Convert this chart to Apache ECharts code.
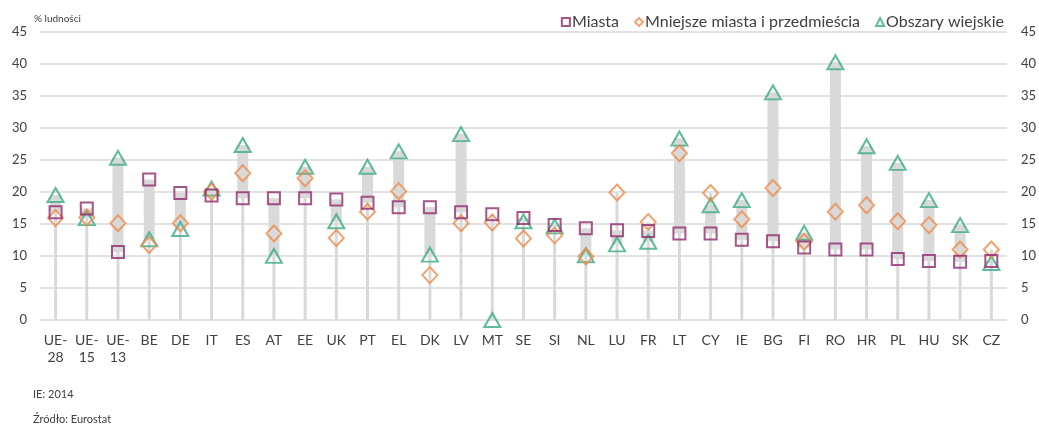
<!DOCTYPE html>
<html>
<head>
<meta charset="utf-8">
<script src="https://cdn.jsdelivr.net/npm/echarts@6/dist/echarts.min.js"></script>
<style>
  html, body { margin: 0; padding: 0; background: #fff; }
  #chart { width: 1039px; height: 425px; }
</style>
</head>
<body>
<div id="chart"></div>
<script>
const categories = ['UE-28','UE-15','UE-13','BE','DE','IT','ES','AT','EE','UK','PT','EL','DK','LV','MT','SE','SI','NL','LU','FR','LT','CY','IE','BG','FI','RO','HR','PL','HU','SK','CZ'];
const miasta =   [16.8,17.4,10.6,21.9,19.8,19.4,19.0,19.0,19.0,18.8,18.3,17.6,17.6,16.8,16.5,15.9,14.8,14.3,14.0,13.9,13.5,13.5,12.5,12.3,11.3,11.0,11.0, 9.5, 9.2, 9.1, 9.2];
const mniejsze = [15.9,16.0,15.1,11.7,15.1,20.0,22.9,13.5,22.1,12.8,16.9,20.1, 7.0,15.1,15.2,12.7,13.2, 9.9,19.9,15.3,26.0,19.8,15.7,20.6,12.2,16.9,17.9,15.4,14.8,11.0,11.0];
const wiejskie = [19.5,15.9,25.3,12.6,14.2,20.5,27.3,10.0,23.9,15.4,23.9,26.3,10.2,29.0, 0.0,15.4,14.6,10.1,11.8,12.2,28.3,17.9,18.7,35.5,13.6,40.2,27.1,24.5,18.7,14.8, 8.9];
const yTicks = [0,5,10,15,20,25,30,35,40,45];
const seriesNames = ['Miasta','Mniejsze miasta i przedmieścia','Obszary wiejskie'];

const cPurple = '#8f2b6d', cOrange = '#ee8b4a', cGreen = '#3aaa85', cGray = '#d9d9d9';
const font = 'Lato';

// drop lines: 0 -> highest value; range bars: cities <-> rural (missing rural = 0 skipped)
const dropData = categories.map((c, i) => [i, 0, Math.max(miasta[i], mniejsze[i], wiejskie[i])]);
const rangeData = categories.map((c, i) => wiejskie[i] === 0 ? [i, null, null] : [i, Math.min(miasta[i], wiejskie[i]), Math.max(miasta[i], wiejskie[i])]);

function rectItem(width, color) {
  return function (params, api) {
    const lo = api.value(1), hi = api.value(2);
    if (lo == null || hi == null || isNaN(lo) || isNaN(hi)) return null;
    const p1 = api.coord([api.value(0), lo]);
    const p2 = api.coord([api.value(0), hi]);
    return { type: 'rect', shape: { x: p1[0] - width / 2, y: p2[1], width: width, height: p1[1] - p2[1] }, style: { fill: color } };
  };
}

const chart = echarts.init(document.getElementById('chart'), null, { renderer: 'canvas' });
const markerStyle = (c) => ({ color: 'rgba(255,255,255,0)', borderColor: c, borderWidth: 2 });
chart.setOption({
  animation: false,
  textStyle: { fontFamily: font },
  grid: { left: 40, right: 31, top: 31.5, bottom: 105 },
  legend: {
    data: seriesNames,
    right: 30, top: 9,
    itemWidth: 8, itemHeight: 8, itemGap: 15,
    textStyle: { fontFamily: font, fontSize: 16, color: '#404040', padding: [0, 0, 0, -3] }
  },
  xAxis: {
    type: 'category', data: categories,
    axisLine: { show: false }, axisTick: { show: false },
    axisLabel: {
      color: '#404040', fontSize: 14, margin: 12, lineHeight: 17, interval: 0,
      formatter: v => v.startsWith('UE-') ? v.replace('-', '-\n') : v
    },
    splitLine: { show: false }
  },
  yAxis: [
    {
      type: 'value', min: 0, max: 45, interval: 5, position: 'left',
      name: '% ludności', nameLocation: 'end', nameGap: 8,
      nameTextStyle: { fontFamily: font, fontSize: 10, color: '#404040', align: 'left', padding: [0, 0, 0, -6] },
      axisLine: { show: false }, axisTick: { show: false },
      axisLabel: { color: '#404040', fontSize: 13, margin: 13, formatter: v => yTicks.includes(v) ? String(v) : '' },
      splitLine: { lineStyle: { color: cGray, width: 1.5 } }
    },
    {
      type: 'value', min: 0, max: 45, interval: 5, position: 'right',
      axisLine: { show: false }, axisTick: { show: false },
      axisLabel: { color: '#404040', fontSize: 13, margin: 14, formatter: v => yTicks.includes(v) ? String(v) : '' },
      splitLine: { show: false }
    }
  ],
  series: [
    { type: 'custom', renderItem: rectItem(3, cGray), data: dropData, encode: { x: 0, y: [1, 2] }, z: 1, silent: true },
    { type: 'custom', renderItem: rectItem(11, cGray), data: rangeData, encode: { x: 0, y: [1, 2] }, z: 2, silent: true },
    { name: seriesNames[0], type: 'scatter', data: miasta, symbol: 'rect', symbolSize: 12, itemStyle: markerStyle(cPurple), z: 5 },
    { name: seriesNames[1], type: 'scatter', data: mniejsze, symbol: 'diamond', symbolSize: [15, 16], itemStyle: markerStyle(cOrange), z: 4 },
    { name: seriesNames[2], type: 'scatter', data: wiejskie, symbol: 'triangle', symbolSize: [16, 14], itemStyle: markerStyle(cGreen), z: 3 }
  ],
  graphic: [
    { type: 'text', left: 33, top: 389, style: { text: 'IE: 2014', font: '11px ' + font, fill: '#404040' } },
    { type: 'text', left: 33, top: 414, style: { text: 'Źródło: Eurostat', font: '11px ' + font, fill: '#404040' } }
  ]
});
</script>
</body>
</html>
